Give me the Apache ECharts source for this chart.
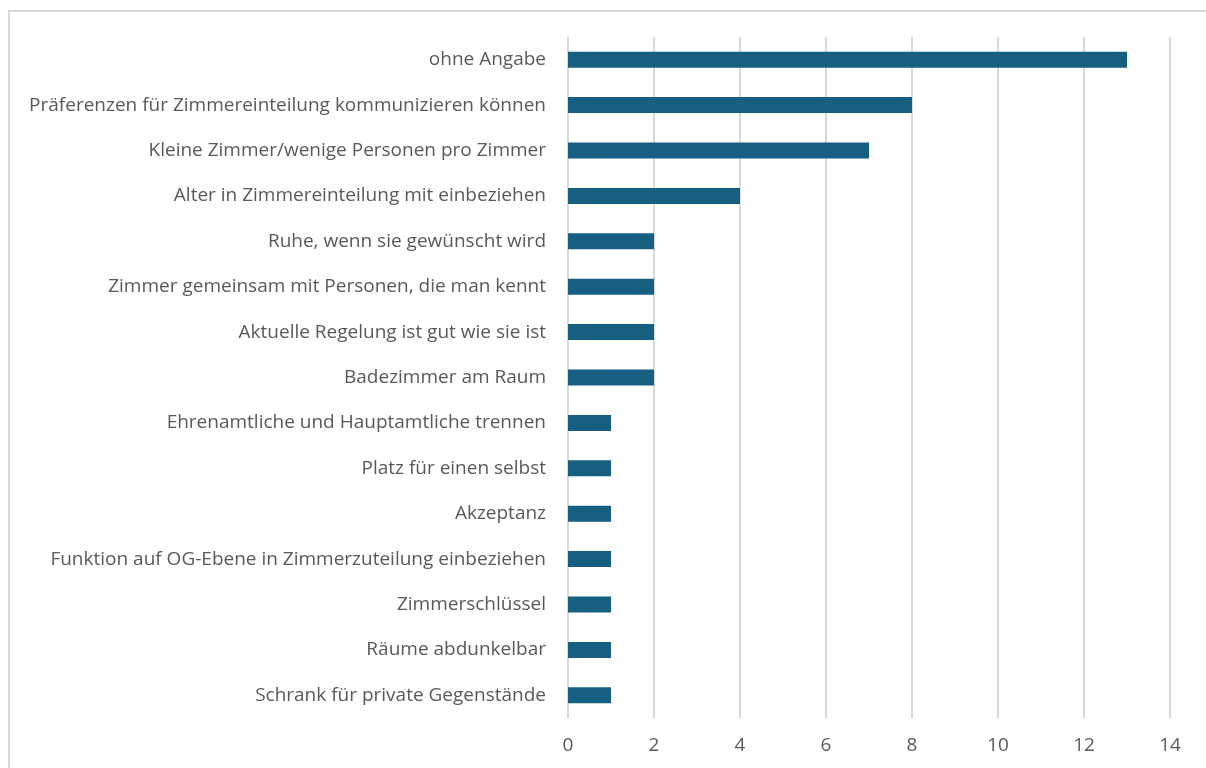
<!DOCTYPE html>
<html lang="de">
<head>
    <meta charset="UTF-8">
    <title>Zimmereinteilung</title>
    <script src="https://cdn.jsdelivr.net/npm/echarts@6/dist/echarts.min.js"></script>
    <style>
        html, body { margin: 0; padding: 0; background: #ffffff; overflow: hidden; }
        .frame {
            position: absolute; left: 8px; top: 10px; width: 1300px; height: 800px;
            border: 2px solid #d9d9d9; box-sizing: border-box;
        }
        #main { position: absolute; left: 0; top: 0; width: 1206px; height: 768px; }
    </style>
</head>
<body>
<div class="frame"></div>
<div id="main"></div>
<script>
    var categories = [
        'ohne Angabe',
        'Präferenzen für Zimmereinteilung kommunizieren können',
        'Kleine Zimmer/wenige Personen pro Zimmer',
        'Alter in Zimmereinteilung mit einbeziehen',
        'Ruhe, wenn sie gewünscht wird',
        'Zimmer gemeinsam mit Personen, die man kennt',
        'Aktuelle Regelung ist gut wie sie ist',
        'Badezimmer am Raum',
        'Ehrenamtliche und Hauptamtliche trennen',
        'Platz für einen selbst',
        'Akzeptanz',
        'Funktion auf OG-Ebene in Zimmerzuteilung einbeziehen',
        'Zimmerschlüssel',
        'Räume abdunkelbar',
        'Schrank für private Gegenstände'
    ];
    var counts = [13, 8, 7, 4, 2, 2, 2, 2, 1, 1, 1, 1, 1, 1, 1];
    var tickMin = 0, tickMax = 14, tickStep = 2;

    var myChart = echarts.init(document.getElementById('main'));
    var option = {
        animation: false,
        grid: { left: 568, right: 36, top: 37, bottom: 50, containLabel: false },
        xAxis: {
            type: 'value',
            min: tickMin,
            max: tickMax,
            interval: tickStep,
            axisLine: { show: false },
            axisTick: { show: false },
            axisLabel: {
                color: '#595959',
                fontSize: 19,
                fontFamily: 'Open Sans',
                margin: 18
            },
            splitLine: { lineStyle: { color: '#d9d9d9', width: 2 } }
        },
        yAxis: {
            type: 'category',
            inverse: true,
            data: categories,
            axisLine: { show: false },
            axisTick: { show: false },
            axisLabel: {
                color: '#595959',
                fontSize: 19,
                fontFamily: 'Open Sans',
                margin: 22
            }
        },
        series: [
            {
                type: 'bar',
                data: counts,
                barWidth: 16,
                itemStyle: { color: '#175f80' }
            }
        ]
    };
    myChart.setOption(option);
</script>
</body>
</html>
